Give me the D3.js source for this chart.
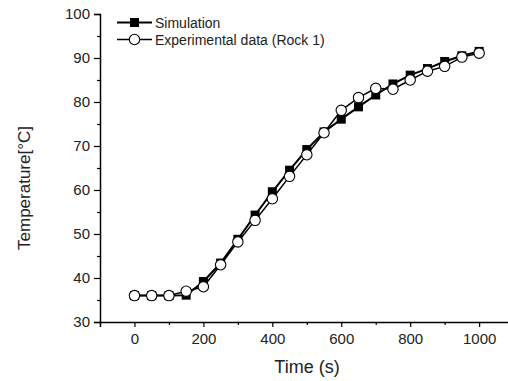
<!DOCTYPE html>
<html>
<head>
<meta charset="utf-8">
<script src="https://cdn.jsdelivr.net/npm/d3@7"></script>
<style>
  html, body { margin: 0; padding: 0; background: #fff; }
  svg { display: block; font-family: Arial, "Liberation Sans", sans-serif; }
</style>
</head>
<body>
<svg id="chart" width="508" height="381"></svg>
<script>
// ---- data ----
const times = [0, 50, 100, 150, 200, 250, 300, 350, 400, 450, 500, 550, 600, 650, 700, 750, 800, 850, 900, 950, 1000];
const simulation = [36.0, 36.0, 36.0, 36.1, 39.2, 43.4, 48.8, 54.3, 59.6, 64.5, 69.2, 73.2, 76.1, 78.9, 81.6, 84.1, 86.1, 87.6, 89.2, 90.5, 91.5];
const experimental = [36.0, 36.0, 36.0, 37.0, 38.0, 43.0, 48.2, 53.1, 58.0, 63.1, 68.0, 73.0, 78.1, 81.0, 83.1, 82.9, 85.0, 87.0, 88.1, 90.2, 91.1];
const xTicks = [0, 200, 400, 600, 800, 1000];
const xMinorTicks = [-100, 100, 300, 500, 700, 900, 1100];
const yTicks = [30, 40, 50, 60, 70, 80, 90, 100];
const yMinorTicks = [35, 45, 55, 65, 75, 85, 95];
const seriesNames = ["Simulation", "Experimental data (Rock 1)"];
const xTitle = "Time (s)";
const yTitle = "Temperature[°C]";

// ---- layout ----
const svg = d3.select("#chart");
const x = d3.scaleLinear().domain([-100, 1100]).range([100, 513.6]);
const y = d3.scaleLinear().domain([30, 100]).range([322, 14]);

// axes
const xAxis = svg.append("g").attr("transform", "translate(0,322)")
  .call(d3.axisBottom(x).tickValues(xTicks).tickSize(5).tickPadding(6).tickFormat(d3.format("d")));
const xMinor = svg.append("g").attr("transform", "translate(0,322)")
  .call(d3.axisBottom(x).tickValues(xMinorTicks).tickSize(3).tickFormat(""));
const yAxis = svg.append("g").attr("transform", "translate(100,0)")
  .call(d3.axisLeft(y).tickValues(yTicks).tickSize(6).tickPadding(4).tickFormat(d3.format("d")));
const yMinor = svg.append("g").attr("transform", "translate(100,0)")
  .call(d3.axisLeft(y).tickValues(yMinorTicks).tickSize(3).tickFormat(""));

[xAxis, xMinor, yAxis, yMinor].forEach(g => {
  g.select(".domain").attr("stroke", "#000").attr("stroke-width", 1.5);
  g.selectAll(".tick line").attr("stroke", "#000").attr("stroke-width", 1.2);
  g.selectAll(".tick text").attr("fill", "#222").style("font-size", "15px")
    .style("font-family", "Arial, 'Liberation Sans', sans-serif");
});
xMinor.select(".domain").remove();
yMinor.select(".domain").remove();

// titles
svg.append("text").attr("x", 307).attr("y", 373).attr("text-anchor", "middle")
  .style("font-size", "18px").attr("fill", "#222").text(xTitle);
svg.append("text").attr("transform", "translate(30,188) rotate(-90)").attr("text-anchor", "middle")
  .style("font-size", "17px").attr("fill", "#222").text(yTitle);

// lines
const line = vals => d3.line().x((d, i) => x(times[i])).y(d => y(d))(vals);

svg.append("path").attr("d", line(simulation)).attr("fill", "none")
  .attr("stroke", "#000").attr("stroke-width", 2);
svg.selectAll(".sq").data(simulation).enter().append("rect")
  .attr("x", (d, i) => x(times[i]) - 4.5).attr("y", d => y(d) - 4.5)
  .attr("width", 9).attr("height", 9).attr("fill", "#000");

svg.append("path").attr("d", line(experimental)).attr("fill", "none")
  .attr("stroke", "#000").attr("stroke-width", 1.5);
svg.selectAll(".ci").data(experimental).enter().append("circle")
  .attr("cx", (d, i) => x(times[i])).attr("cy", d => y(d)).attr("r", 5.2)
  .attr("fill", "#fff").attr("stroke", "#000").attr("stroke-width", 1.1);

// legend
const lg = svg.append("g");
const rows = [22.5, 39.5];
lg.append("line").attr("x1", 117).attr("x2", 152).attr("y1", rows[0]).attr("y2", rows[0])
  .attr("stroke", "#000").attr("stroke-width", 2);
lg.append("rect").attr("x", 134.5 - 4.5).attr("y", rows[0] - 4.5).attr("width", 9).attr("height", 9).attr("fill", "#000");
lg.append("line").attr("x1", 117).attr("x2", 152).attr("y1", rows[1]).attr("y2", rows[1])
  .attr("stroke", "#000").attr("stroke-width", 1.5);
lg.append("circle").attr("cx", 134.5).attr("cy", rows[1]).attr("r", 5.2)
  .attr("fill", "#fff").attr("stroke", "#000").attr("stroke-width", 1.1);
seriesNames.forEach((n, i) => {
  lg.append("text").attr("x", 155).attr("y", rows[i] + 5).style("font-size", "14px")
    .attr("fill", "#222").text(n);
});
</script>
</body>
</html>
